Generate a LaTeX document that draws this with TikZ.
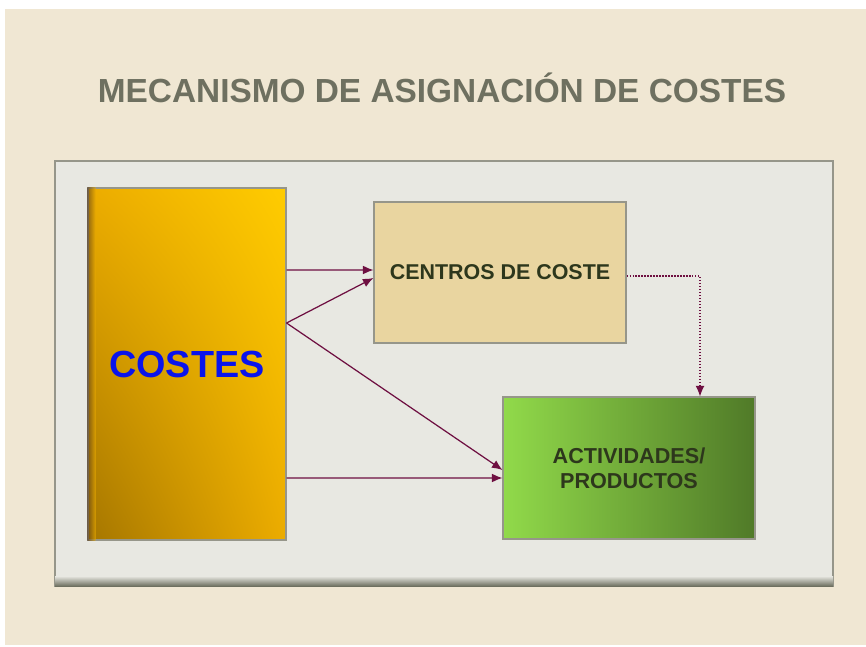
\documentclass[tikz,border=0pt]{standalone}
\usepackage{fontspec}
\setmainfont{Liberation Sans}
\usetikzlibrary{arrows.meta,shadings}

\definecolor{fondo}{RGB}{240,231,211}
\definecolor{panel}{RGB}{232,232,226}
\definecolor{panelborde}{RGB}{150,150,138}
\definecolor{titulo}{RGB}{110,112,96}
\definecolor{flecha}{RGB}{110,15,65}
\definecolor{papiro}{RGB}{233,213,160}
\definecolor{textoverde}{RGB}{45,55,28}
\definecolor{oroclaro}{RGB}{255,204,0}
\definecolor{oromedio}{RGB}{236,172,0}
\definecolor{orooscuro}{RGB}{165,118,0}
\definecolor{azulcostes}{RGB}{10,20,235}
\definecolor{verdeclaro}{RGB}{145,218,74}
\definecolor{verdeoscuro}{RGB}{80,122,40}

\tikzset{
  caja/.style={draw=panelborde, line width=0.6pt, inner sep=0pt},
  enlace/.style={draw=flecha, line width=0.7pt, -{Latex[length=6pt,width=5pt]}},
}

\begin{document}
\begin{tikzpicture}
  \filldraw[fill=white, draw=none] (0cm,0cm) rectangle (17.32cm,-12.94cm);
  \filldraw[fill=fondo, draw=none] (0.1cm,-0.18cm) rectangle (17.32cm,-12.9cm);
  \node[text=titulo, font=\fontsize{19}{22}\selectfont\bfseries] (titulo) at (8.84cm,-1.76cm) {MECANISMO DE ASIGNACIÓN DE COSTES};

  % panel
  \filldraw[fill=panel, draw=panelborde, line width=0.8pt] (1.1cm,-3.22cm) rectangle (16.66cm,-11.72cm);
  \shade[top color=panel, bottom color=titulo] (1.1cm,-11.52cm) rectangle (16.66cm,-11.72cm);

  % cajas
  \node[caja, minimum width=3.96cm, minimum height=7.04cm,
        upper right=oroclaro, lower left=orooscuro, upper left=oromedio, lower right=oromedio,
        text=azulcostes, font=\fontsize{21.5}{24}\selectfont\bfseries] (costes) at (3.74cm,-7.28cm) {COSTES};
  \shade[left color=black!55!brown, right color=oromedio, opacity=0.6] (costes.north west) rectangle ([xshift=0.16cm]costes.south west);
  \node[caja, fill=papiro, minimum width=5.04cm, minimum height=2.82cm,
        text=textoverde, font=\fontsize{12.2}{14}\selectfont\bfseries] (centros) at (10cm,-5.45cm) {CENTROS DE COSTE};
  \node[caja, left color=verdeclaro, right color=verdeoscuro,
        minimum width=5.04cm, minimum height=2.84cm, align=center,
        text=textoverde, font=\fontsize{12.3}{14.2}\selectfont\bfseries] (actividades) at (12.58cm,-9.36cm) {ACTIVIDADES/\\PRODUCTOS};

  % flechas
  \draw[enlace] ([yshift=1.88cm]costes.east) -- ([yshift=0.05cm]centros.west);
  \draw[enlace] ([yshift=0.82cm]costes.east) -- ([yshift=-0.11cm]centros.west);
  \draw[enlace] ([yshift=0.82cm]costes.east) -- ([yshift=-0.04cm]actividades.west);
  \draw[enlace] ([yshift=-2.28cm]costes.east) -- ([yshift=-0.2cm]actividades.west);
  \draw[enlace, densely dotted, line width=0.6pt] ([yshift=-0.07cm]centros.east) -| ([xshift=1.42cm]actividades.north);
\end{tikzpicture}
\end{document}
